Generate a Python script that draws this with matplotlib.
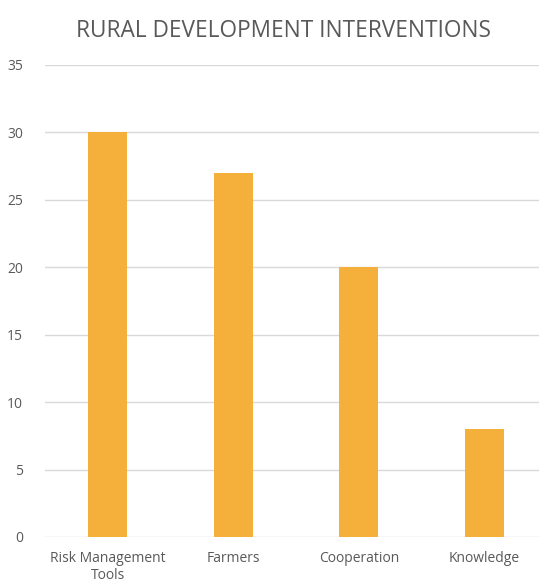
import matplotlib.pyplot as plt

categories = ['Risk Management\nTools', 'Farmers', 'Cooperation', 'Knowledge']
values = [30, 27, 20, 8]
yticks = [0, 5, 10, 15, 20, 25, 30, 35]

text_color = '#595959'
bar_color = '#F4B03A'
grid_color = '#D9D9D9'

plt.rcParams['font.family'] = ['Open Sans', 'DejaVu Sans']

fig = plt.figure(figsize=(5.39, 5.83), dpi=100)
# the plot area runs a little past the right edge of the figure
ax = fig.add_axes([45 / 539, 46 / 583, 502 / 539, 472 / 583])

x = range(len(categories))
ax.bar(x, values, width=0.31, color=bar_color, zorder=3)

ax.set_xlim(-0.5, len(categories) - 0.5)
ax.set_ylim(0, 35)
ax.set_yticks(yticks)
ax.set_xticks(list(x))
ax.set_xticklabels(categories, fontsize=10, color=text_color, linespacing=1.15)
ax.tick_params(axis='y', labelsize=10, labelcolor=text_color, length=0, pad=16)
ax.tick_params(axis='x', length=0, pad=10)

ax.grid(axis='y', color=grid_color, linewidth=1, zorder=0)
for s in ax.spines.values():
    s.set_visible(False)

fig.text(284 / 539, 1 - 31 / 583, 'RURAL DEVELOPMENT INTERVENTIONS',
         ha='center', va='center', fontsize=16.3, color=text_color)

fig.savefig('out.png', dpi=100)
